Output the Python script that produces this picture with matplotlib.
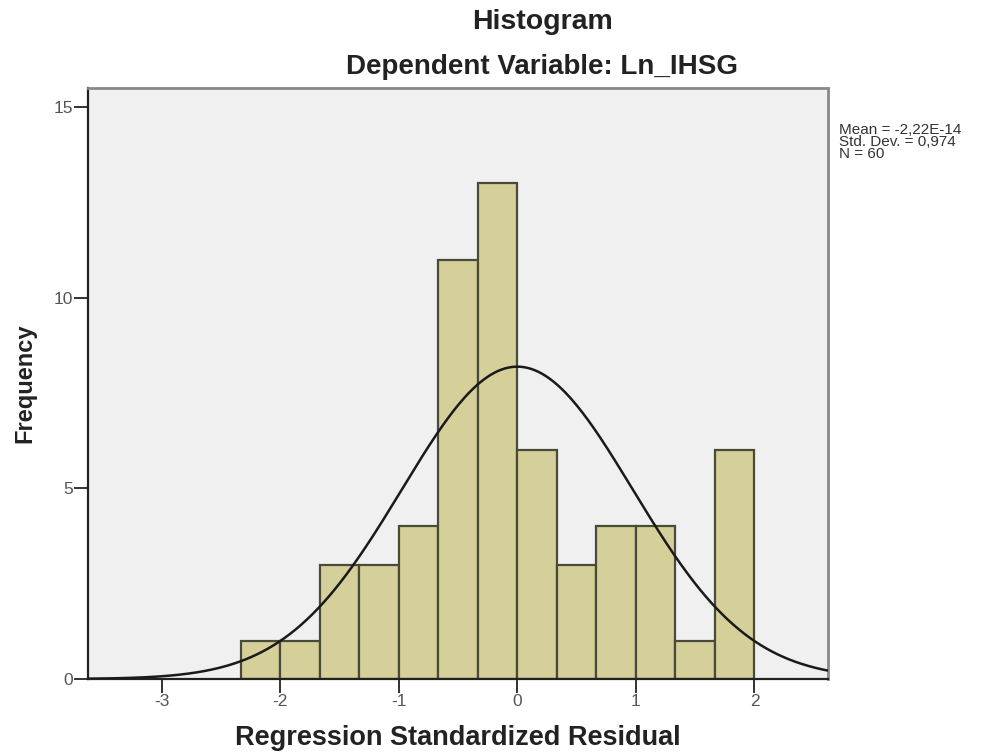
import numpy as np
import matplotlib
matplotlib.use("Agg")
import matplotlib.pyplot as plt

plt.rcParams['font.family'] = ['Liberation Sans', 'DejaVu Sans']
plt.rcParams['axes.unicode_minus'] = False

# Histogram data (regression standardized residuals, bin width 1/3)
bin_edges = [-7/3, -2, -5/3, -4/3, -1, -2/3, -1/3, 0, 1/3, 2/3, 1, 4/3, 5/3, 2]
counts = [1, 1, 3, 3, 4, 11, 13, 6, 3, 4, 4, 1, 6]
x_ticks = [-3, -2, -1, 0, 1, 2]
y_ticks = [0, 5, 10, 15]

mean = -2.22e-14
std_dev = 0.974
n_obs = 60

fig = plt.figure(figsize=(9.98, 7.55), dpi=100)
ax = fig.add_axes([88/998, 1 - 679/755, 740/998, 591/755])
ax.set_facecolor('#f0f0f0')

# Bars
lefts = np.array(bin_edges[:-1])
widths = np.diff(bin_edges)
ax.bar(lefts, counts, width=widths, align='edge', color='#d5d09a',
       edgecolor='#4a4a38', linewidth=1.6, zorder=2)

# Normal curve scaled to the histogram
bw = widths[0]
xs = np.linspace(-3.62, 2.62, 400)
pdf = np.exp(-0.5 * ((xs - mean) / std_dev) ** 2) / (std_dev * np.sqrt(2 * np.pi))
ax.plot(xs, n_obs * bw * pdf, color='#1a1a1a', linewidth=1.8, zorder=3)

ax.set_xlim(-3.62, 2.62)
ax.set_ylim(0, 15.5)
ax.set_xticks(x_ticks)
ax.set_yticks(y_ticks)
ax.tick_params(direction='out', length=10, width=1.4, color='#333333',
               labelcolor='#555555', labelsize=12.5, pad=1)

for side in ['left', 'bottom']:
    ax.spines[side].set_color('#222222')
    ax.spines[side].set_linewidth(1.6)
for side in ['top', 'right']:
    ax.spines[side].set_color('#888888')
    ax.spines[side].set_linewidth(2)

ax.set_xlabel('Regression Standardized Residual', fontsize=19.5, fontweight='bold',
              color='#222222', labelpad=11)
ax.set_ylabel('Frequency', fontsize=17, fontweight='bold', color='#222222', labelpad=12)

# Titles
fig.text(542/998, 1 - 22/755, 'Histogram', ha='center', va='center',
         fontsize=20.5, fontweight='bold', color='#222222')
fig.text(542/998, 1 - 67/755, 'Dependent Variable: Ln_IHSG', ha='center', va='center',
         fontsize=20, fontweight='bold', color='#222222')

# Statistics box
fig.text(839/998, 1 - 123/755, 'Mean = -2,22E-14\nStd. Dev. = 0,974\nN = 60',
         ha='left', va='top', fontsize=11, linespacing=0.82, color='#333333')

fig.savefig('out.png', dpi=100, facecolor='white')
